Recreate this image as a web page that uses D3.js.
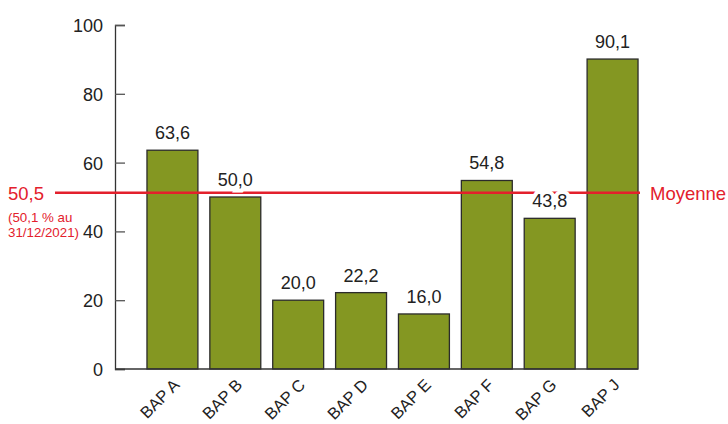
<!DOCTYPE html>
<html>
<head>
<meta charset="utf-8">
<script src="https://cdn.jsdelivr.net/npm/d3@7"></script>
<style>
  body { margin: 0; background: #fff; }
  text { font-family: "Liberation Sans", Arial, sans-serif; }
</style>
</head>
<body>
<div id="chart"></div>
<script>
// data
const categories = ['BAP A', 'BAP B', 'BAP C', 'BAP D', 'BAP E', 'BAP F', 'BAP G', 'BAP J'];
const values = [63.6, 50.0, 20.0, 22.2, 16.0, 54.8, 43.8, 90.1];
const yTicks = [0, 20, 40, 60, 80, 100];
const meanValue = 50.5;
const meanNote = ['(50,1 % au', '31/12/2021)'];
const meanLabel = 'Moyenne';

const width = 728;
const height = 424;
const fmt = v => v.toFixed(1).replace('.', ',');

const svg = d3.select('#chart')
  .append('svg')
  .attr('width', width)
  .attr('height', height);

const x = d3.scaleBand()
  .domain(categories)
  .range([141, 644])
  .paddingInner(0.19)
  .paddingOuter(0.095);

const y = d3.scaleLinear()
  .domain([0, 100])
  .range([369, 25]);

const axisX = 115;
const red = '#e3202c';

// bars
svg.selectAll('.bar')
  .data(values)
  .enter()
  .append('rect')
  .attr('class', 'bar')
  .attr('x', (d, i) => x(categories[i]))
  .attr('y', d => y(d))
  .attr('width', x.bandwidth())
  .attr('height', d => y(0) - y(d))
  .style('fill', '#849722')
  .style('stroke', '#2b2b2b')
  .style('stroke-width', 1.3);

// y axis
const yAxis = svg.append('g')
  .attr('transform', `translate(${axisX},0)`)
  .call(d3.axisRight(y).tickValues(yTicks).tickSize(10).tickFormat(''));
yAxis.select('.domain').attr('stroke', '#333').attr('stroke-width', 1.3);
yAxis.selectAll('.tick line').attr('stroke', '#555').attr('stroke-width', 1.3);

svg.selectAll('.ylab')
  .data(yTicks)
  .enter()
  .append('text')
  .attr('x', axisX - 12)
  .attr('y', d => y(d) + 7)
  .attr('text-anchor', 'end')
  .style('font-size', '18px')
  .style('fill', '#222')
  .text(d => d);

// x baseline
svg.append('line')
  .attr('x1', axisX)
  .attr('x2', x.range()[1] - x.step() * x.paddingOuter())
  .attr('y1', y(0))
  .attr('y2', y(0))
  .attr('stroke', '#333')
  .attr('stroke-width', 1.5);

// x labels
svg.selectAll('.xlab')
  .data(categories)
  .enter()
  .append('text')
  .attr('transform', d => `translate(${x(d) + x.bandwidth() / 2 + 8},${y(0) + 17}) rotate(-45)`)
  .attr('text-anchor', 'end')
  .style('font-size', '16.5px')
  .style('fill', '#222')
  .text(d => d);

// mean line
const meanY = y(meanValue) - 2.5;
svg.append('line')
  .attr('x1', 55)
  .attr('x2', 640)
  .attr('y1', meanY)
  .attr('y2', meanY)
  .attr('stroke', red)
  .attr('stroke-width', 2.5);

// value labels (white halo hides the mean line)
svg.selectAll('.vlab')
  .data(values)
  .enter()
  .append('text')
  .attr('x', (d, i) => x(categories[i]) + x.bandwidth() / 2)
  .attr('y', d => y(d) - 11)
  .attr('text-anchor', 'middle')
  .style('font-size', '18px')
  .style('fill', '#222')
  .style('stroke', '#fff')
  .style('stroke-width', 8)
  .style('paint-order', 'stroke')
  .text(d => fmt(d));

svg.append('text')
  .attr('x', 8)
  .attr('y', meanY + 7)
  .style('font-size', '18.5px')
  .style('fill', red)
  .text(fmt(meanValue));

svg.selectAll('.note')
  .data(meanNote)
  .enter()
  .append('text')
  .attr('x', 8)
  .attr('y', (d, i) => meanY + 29 + i * 15.5)
  .style('font-size', '13.3px')
  .style('fill', red)
  .text(d => d);

svg.append('text')
  .attr('x', 650)
  .attr('y', meanY + 7)
  .style('font-size', '18.5px')
  .style('fill', red)
  .text(meanLabel);
</script>
</body>
</html>
